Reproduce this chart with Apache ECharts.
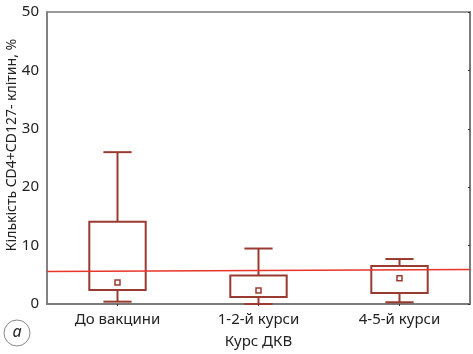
<!DOCTYPE html>
<html>
<head>
<meta charset="utf-8">
<script src="https://cdn.jsdelivr.net/npm/echarts@6/dist/echarts.min.js"></script>
<style>
  html, body { margin: 0; padding: 0; background: #fff; }
  #chart { width: 473px; height: 354px; }
</style>
</head>
<body>
<div id="chart"></div>
<script>
// groups along the x axis
const categories = ['До вакцини', '1-2-й курси', '4-5-й курси'];
// whiskers, box edges and mean for each group
const whiskerLow = [0.4, 0.0, 0.3];
const boxLow = [2.4, 1.2, 1.9];
const boxHigh = [14.1, 4.9, 6.5];
const whiskerHigh = [26, 9.5, 7.7];
const means = [3.7, 2.3, 4.4];
// reference line, left edge to right edge
const refLine = [[0, 5.55], [1, 5.9]];
const yTicks = { min: 0, max: 50, interval: 10 };

const boxColor = '#9a3b31';
const axisColor = '#7a7a7a';
const font = '"Noto Sans", sans-serif';

const chart = echarts.init(document.getElementById('chart'));

const boxData = categories.map((c, i) => [i, whiskerLow[i], boxLow[i], boxHigh[i], whiskerHigh[i], means[i]]);

function renderBox(params, api) {
  const x = api.value(0);
  const pLow = api.coord([x, api.value(1)]);
  const pQ1 = api.coord([x, api.value(2)]);
  const pQ3 = api.coord([x, api.value(3)]);
  const pHigh = api.coord([x, api.value(4)]);
  const pMean = api.coord([x, api.value(5)]);
  const bw = api.size([1, 0])[0] * 0.4;
  const cw = bw / 2;
  const cx = pQ1[0];
  const style = { stroke: boxColor, lineWidth: 2, fill: null };
  return {
    type: 'group',
    children: [
      { type: 'line', shape: { x1: cx, y1: pHigh[1], x2: cx, y2: pQ3[1] }, style },
      { type: 'line', shape: { x1: cx - cw / 2, y1: pHigh[1], x2: cx + cw / 2, y2: pHigh[1] }, style },
      { type: 'line', shape: { x1: cx, y1: pQ1[1], x2: cx, y2: pLow[1] }, style },
      { type: 'line', shape: { x1: cx - cw / 2, y1: pLow[1], x2: cx + cw / 2, y2: pLow[1] }, style },
      { type: 'rect', shape: { x: cx - bw / 2, y: pQ3[1], width: bw, height: pQ1[1] - pQ3[1] }, style },
      { type: 'rect', shape: { x: pMean[0] - 2.5, y: pMean[1] - 2.5, width: 5, height: 5 }, style: { stroke: boxColor, lineWidth: 1.5, fill: '#fff' } }
    ]
  };
}

chart.setOption({
  animation: false,
  grid: { left: 47, right: 3, top: 12, bottom: 48, show: true, borderColor: axisColor, borderWidth: 1.5 },
  xAxis: [
    {
      type: 'category',
      data: categories,
      name: 'Курс ДКВ',
      nameLocation: 'middle',
      nameGap: 30,
      nameTextStyle: { color: '#222', fontSize: 15, fontFamily: font },
      axisLine: { lineStyle: { color: axisColor, width: 1.5 } },
      axisTick: { show: false },
      axisLabel: { color: '#222', fontSize: 15, fontFamily: font, margin: 8 }
    },
    {
      type: 'category',
      data: categories,
      position: 'top',
      axisLine: { show: true, lineStyle: { color: axisColor, width: 1.5 } },
      axisTick: { show: true, inside: true, alignWithLabel: true, length: 2, lineStyle: { color: '#333' } },
      axisLabel: { show: false }
    },
    { type: 'value', min: 0, max: 1, show: false }
  ],
  yAxis: [
    {
      type: 'value',
      min: yTicks.min, max: yTicks.max, interval: yTicks.interval,
      axisLine: { show: true, lineStyle: { color: axisColor, width: 1.5 } },
      axisTick: { show: false },
      splitLine: { show: false },
      axisLabel: { color: '#222', fontSize: 15, fontFamily: font, margin: 8 }
    },
    {
      type: 'value',
      position: 'right',
      min: yTicks.min, max: yTicks.max, interval: yTicks.interval,
      axisLine: { show: true, lineStyle: { color: axisColor, width: 2 } },
      axisTick: { show: true, inside: true, length: 2, lineStyle: { color: '#333' } },
      splitLine: { show: false },
      axisLabel: { show: false }
    }
  ],
  graphic: [
    {
      type: 'text', x: 12, y: 145, rotation: Math.PI / 2,
      style: {
        text: 'Кількість CD4+CD127- клітин, %',
        fill: '#222', font: '14px ' + font, align: 'center', verticalAlign: 'middle'
      }
    },
    { type: 'circle', shape: { cx: 17, cy: 333, r: 13 }, style: { stroke: '#888', lineWidth: 1, fill: '#fff' } },
    {
      type: 'text', x: 17, y: 332,
      style: { text: 'a', fill: '#222', font: 'italic 16px ' + font, align: 'center', verticalAlign: 'middle' }
    }
  ],
  series: [
    {
      type: 'custom',
      xAxisIndex: 0,
      renderItem: renderBox,
      encode: { x: 0, y: [1, 2, 3, 4, 5] },
      data: boxData,
      z: 2
    },
    {
      type: 'line',
      xAxisIndex: 2,
      data: refLine,
      symbol: 'none',
      lineStyle: { color: '#e8342b', width: 1.5 },
      z: 3
    }
  ]
});
</script>
</body>
</html>
